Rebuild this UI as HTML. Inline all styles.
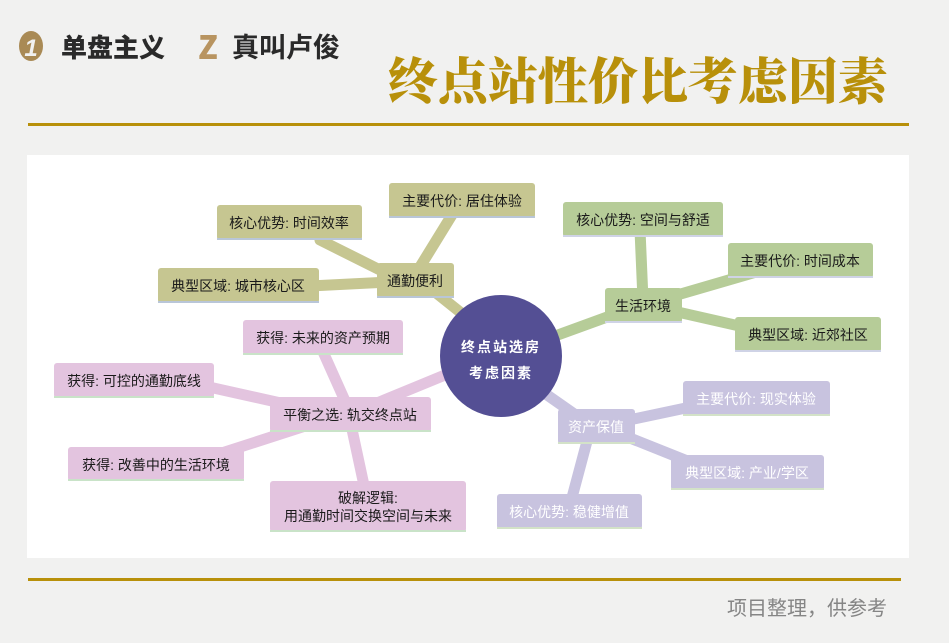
<!DOCTYPE html>
<html><head><meta charset="utf-8"><style>
html,body{margin:0;padding:0;background:#f1f1f0;}
svg{display:block;}
text{font-family:"Liberation Sans","Noto Sans CJK SC",sans-serif;}
</style></head><body>
<svg width="949" height="643" viewBox="0 0 949 643" xmlns="http://www.w3.org/2000/svg">
<rect width="949" height="643" fill="#f1f1f0"/>
<!-- logos -->
<ellipse cx="31" cy="46" rx="12" ry="15" fill="#a98a55"/>
<text x="31" y="56" font-size="24" font-weight="bold" fill="#f1f1f0" text-anchor="middle" font-style="italic">1</text>
<text x="61" y="57" font-size="26" font-weight="900" fill="#2a2a2a" style="font-family:'Noto Sans CJK SC',sans-serif">单盘主义</text>
<text x="208" y="59" font-size="32" font-weight="900" fill="#b89460" text-anchor="middle" style="font-family:'Noto Sans CJK SC',sans-serif">Z</text>
<text x="232" y="57" font-size="27" font-weight="bold" fill="#2a2a2a" style="font-family:'Noto Sans CJK SC',sans-serif">真叫卢俊</text>
<!-- title -->
<text x="388" y="99" font-size="50" font-weight="900" fill="#b8900a" textLength="500" style="font-family:'Noto Serif CJK SC',serif">终点站性价比考虑因素</text>
<rect x="28" y="123" width="881" height="3" fill="#b8900a"/>
<!-- panel -->
<rect x="27" y="155" width="882" height="403" fill="#ffffff"/>
<!-- connectors -->
<g stroke-linecap="round" fill="none">
<g stroke="#c6c691" stroke-width="11">
<line x1="470" y1="320" x2="420" y2="280"/>
<line x1="415" y1="275" x2="455" y2="210"/>
<line x1="400" y1="280" x2="320" y2="240"/>
<line x1="390" y1="282" x2="310" y2="286"/>
</g>
<g stroke="#b6cc98" stroke-width="11">
<line x1="555" y1="336" x2="640" y2="305"/>
<line x1="643" y1="300" x2="640" y2="230"/>
<line x1="660" y1="300" x2="770" y2="268"/>
<line x1="660" y1="308" x2="770" y2="333"/>
</g>
<g stroke="#c8c3df" stroke-width="11">
<line x1="540" y1="390" x2="590" y2="425"/>
<line x1="610" y1="424" x2="700" y2="405"/>
<line x1="610" y1="430" x2="710" y2="470"/>
<line x1="590" y1="430" x2="570" y2="505"/>
</g>
<g stroke="#e3c4df" stroke-width="11">
<line x1="445" y1="375" x2="360" y2="410"/>
<line x1="350" y1="412" x2="320" y2="345"/>
<line x1="330" y1="414" x2="200" y2="385"/>
<line x1="330" y1="418" x2="200" y2="460"/>
<line x1="350" y1="420" x2="365" y2="490"/>
</g>
</g>
<!-- center -->
<circle cx="501" cy="356" r="61" fill="#544f94"/>
<text x="501" y="352" font-size="14" font-weight="bold" fill="#fff" text-anchor="middle" letter-spacing="2">终点站选房</text>
<text x="501" y="378" font-size="14" font-weight="bold" fill="#fff" text-anchor="middle" letter-spacing="2">考虑因素</text>
<!-- olive boxes -->
<g fill="#c6c691">
<rect x="389" y="183" width="146" height="35" rx="3"/>
<rect x="217" y="205" width="145" height="35" rx="3"/>
<rect x="158" y="268" width="161" height="35" rx="3"/>
<rect x="377" y="263" width="77" height="35" rx="3"/>
</g>
<g fill="#b9c6d8">
<rect x="389" y="216" width="146" height="2"/>
<rect x="217" y="238" width="145" height="2"/>
<rect x="158" y="301" width="161" height="2"/>
<rect x="377" y="296" width="77" height="2"/>
</g>
<g font-size="14" fill="#1a1a1a" text-anchor="middle">
<text x="462" y="206">主要代价: 居住体验</text>
<text x="289" y="228">核心优势: 时间效率</text>
<text x="238" y="291">典型区域: 城市核心区</text>
<text x="415" y="286">通勤便利</text>
</g>
<!-- green boxes -->
<g fill="#b6cc98">
<rect x="563" y="202" width="160" height="35" rx="3"/>
<rect x="728" y="243" width="145" height="35" rx="3"/>
<rect x="605" y="288" width="77" height="35" rx="3"/>
<rect x="735" y="317" width="146" height="35" rx="3"/>
</g>
<g fill="#cfd3e6">
<rect x="563" y="235" width="160" height="2"/>
<rect x="728" y="276" width="145" height="2"/>
<rect x="605" y="321" width="77" height="2"/>
<rect x="735" y="350" width="146" height="2"/>
</g>
<g font-size="14" fill="#1a1a1a" text-anchor="middle">
<text x="643" y="225">核心优势: 空间与舒适</text>
<text x="800" y="266">主要代价: 时间成本</text>
<text x="643" y="311">生活环境</text>
<text x="808" y="340">典型区域: 近郊社区</text>
</g>
<!-- lavender boxes -->
<g fill="#c8c3df">
<rect x="683" y="381" width="147" height="35" rx="3"/>
<rect x="558" y="409" width="77" height="35" rx="3"/>
<rect x="671" y="455" width="153" height="35" rx="3"/>
<rect x="497" y="494" width="145" height="35" rx="3"/>
</g>
<g fill="#d3e2c8">
<rect x="683" y="414" width="147" height="2"/>
<rect x="558" y="442" width="77" height="2"/>
<rect x="671" y="488" width="153" height="2"/>
<rect x="497" y="527" width="145" height="2"/>
</g>
<g font-size="14" fill="#ffffff" text-anchor="middle">
<text x="756" y="404">主要代价: 现实体验</text>
<text x="596" y="432">资产保值</text>
<text x="747" y="478">典型区域: 产业/学区</text>
<text x="569" y="517">核心优势: 稳健增值</text>
</g>
<!-- pink boxes -->
<g fill="#e3c4df">
<rect x="243" y="320" width="160" height="35" rx="3"/>
<rect x="54" y="363" width="160" height="35" rx="3"/>
<rect x="270" y="397" width="161" height="35" rx="3"/>
<rect x="68" y="447" width="176" height="34" rx="3"/>
<rect x="270" y="481" width="196" height="51" rx="3"/>
</g>
<g fill="#c9e3c8">
<rect x="243" y="353" width="160" height="2"/>
<rect x="54" y="396" width="160" height="2"/>
<rect x="270" y="430" width="161" height="2"/>
<rect x="68" y="479" width="176" height="2"/>
<rect x="270" y="530" width="196" height="2"/>
</g>
<g font-size="14" fill="#1a1a1a" text-anchor="middle">
<text x="323" y="343">获得: 未来的资产预期</text>
<text x="134" y="386">获得: 可控的通勤底线</text>
<text x="350" y="420">平衡之选: 轨交终点站</text>
<text x="156" y="470">获得: 改善中的生活环境</text>
<text x="368" y="503">破解逻辑:</text>
<text x="368" y="521">用通勤时间交换空间与未来</text>
</g>
<!-- footer -->
<rect x="28" y="578" width="873" height="3" fill="#b8900a"/>
<text x="887" y="615" font-size="20" fill="#858585" text-anchor="end">项目整理，供参考</text>
</svg>
</body></html>
